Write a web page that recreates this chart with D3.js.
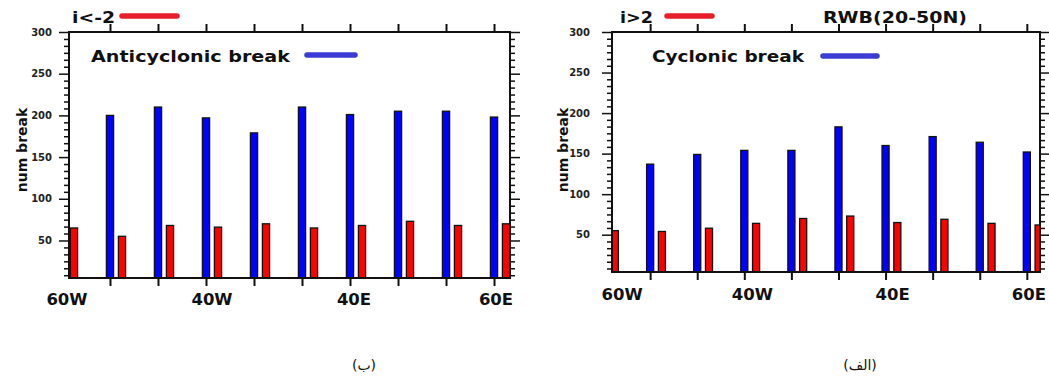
<!DOCTYPE html>
<meta charset="utf-8">
<script src="https://d3js.org/d3.v7.min.js"></script>
<style>
  body { margin: 0; background: #fff; }
</style>
<div id="chart"></div>

<script>
// sectors along the latitude band (index 0..9), labels only on every third
const sectors = d3.range(10);
const lonLabels = ["60W", "40W", "40E", "60E"];
const lonLabelAt = [0, 3, 6, 9];
const yTicks = [50, 100, 150, 200, 250, 300];

// (ب) i<-2, anticyclonic break  (first blue bar falls outside the frame)
const antiBlue = [null, 200, 210, 197, 179, 210, 201, 205, 205, 198];
const antiRed = [65, 55, 68, 66, 70, 65, 68, 73, 68, 70];

// (الف) i>2, cyclonic break
const cycBlue = [null, 137, 149, 154, 154, 183, 160, 171, 164, 152];
const cycRed = [55, 54, 58, 64, 70, 73, 65, 69, 64, 62];

const width = 1049, height = 376;

const svg = d3.select("#chart")
    .append("svg")
    .attr("width", width)
    .attr("height", height);

const panels = [
    {
        id: "left", blue: antiBlue, red: antiRed,
        x0: 69, x1: 510, y0: 32, y1: 278,
        xDomain: [0.146, 9.333], yDomain: [5, 300],
        labelGap: 17, ylabX: 27,
        lonDx: [5, 6, 4, 2], lonY: 305,
        idx: "i<-2", idxX: 72, idxW: 43, redLine: [122, 177],
        kind: "Anticyclonic break", kindX: 91, kindW: 199, blueLine: [307, 355, 55],
        caption: "(ب)", capX: 364
    },
    {
        id: "right", blue: cycBlue, red: cycRed,
        x0: 612, x1: 1040, y0: 32, y1: 272,
        xDomain: [0.19, 9.28], yDomain: [4, 300],
        labelGap: 22, ylabX: 568,
        lonDx: [19, 8, 7, 2], lonY: 300,
        idx: "i>2", idxX: 620, idxW: 33, redLine: [667, 712],
        kind: "Cyclonic break", kindX: 652, kindW: 152, blueLine: [823, 877, 56],
        title: "RWB(20-50N)", titleX: 823, titleW: 144,
        caption: "(الف)", capX: 860
    }
];

panels.forEach(function(p) {
    const x = d3.scaleLinear().domain(p.xDomain).range([p.x0, p.x1]);
    const y = d3.scaleLinear().domain(p.yDomain).range([p.y1, p.y0]);
    const g = svg.append("g");

    // clip bars to the frame
    svg.append("clipPath").attr("id", "clip-" + p.id)
        .append("rect")
        .attr("x", p.x0).attr("y", p.y0)
        .attr("width", p.x1 - p.x0).attr("height", p.y1 - p.y0);

    const bw = x(0.15) - x(0);
    const bars = g.append("g").attr("clip-path", "url(#clip-" + p.id + ")");

    bars.selectAll(".blue")
        .data(sectors.filter(i => p.blue[i] != null))
        .join("rect")
        .attr("x", i => x(i) - bw / 2)
        .attr("y", i => y(p.blue[i]))
        .attr("width", bw)
        .attr("height", i => y(p.yDomain[0]) - y(p.blue[i]))
        .attr("fill", "#0000ff")
        .attr("stroke", "#111")
        .attr("stroke-width", 1.3);

    bars.selectAll(".red")
        .data(sectors)
        .join("rect")
        .attr("x", i => x(i + 0.25) - bw / 2)
        .attr("y", i => y(p.red[i]))
        .attr("width", bw)
        .attr("height", i => y(p.yDomain[0]) - y(p.red[i]))
        .attr("fill", "#ff0000")
        .attr("stroke", "#111")
        .attr("stroke-width", 1.3);

    // minor ticks every 50/6
    const minor = d3.range(1, 36).map(k => k * 50 / 6)
        .filter(v => v > p.yDomain[0] && v < 300 && Math.abs(v / 50 - Math.round(v / 50)) > 1e-6);

    function yAxis(axisFn, xPos) {
        const a = g.append("g").attr("transform", `translate(${xPos},0)`);
        a.append("g").call(axisFn(y).tickValues(minor).tickSize(5).tickFormat(""));
        a.append("g").call(axisFn(y).tickValues(yTicks).tickSize(10).tickFormat(""));
        a.selectAll(".domain").remove();
        a.selectAll("line").attr("stroke", "#111").attr("stroke-width", 1.5);
    }
    yAxis(d3.axisLeft, p.x0);
    yAxis(d3.axisRight, p.x1);

    // y tick labels
    g.selectAll(".ylab")
        .data(yTicks)
        .join("text")
        .attr("x", p.x0 - p.labelGap)
        .attr("y", d => y(d))
        .attr("dy", "0.35em")
        .attr("text-anchor", "end")
        .attr("font-family", "DejaVu Sans")
        .attr("font-weight", "bold")
        .attr("font-size", 10)
        .attr("fill", "#222")
        .text(d => d);

    // x ticks top and bottom
    const xt = d3.range(1, 10);
    const top = g.append("g").attr("transform", `translate(0,${p.y0})`)
        .call(d3.axisTop(x).tickValues(xt).tickSize(8).tickFormat(""));
    const bot = g.append("g").attr("transform", `translate(0,${p.y1})`)
        .call(d3.axisBottom(x).tickValues(xt).tickSize(8).tickFormat(""));
    [top, bot].forEach(a => {
        a.select(".domain").remove();
        a.selectAll("line").attr("stroke", "#111").attr("stroke-width", 2);
    });

    // longitude labels
    g.selectAll(".lon")
        .data(lonLabels)
        .join("text")
        .attr("x", (d, k) => x(lonLabelAt[k]) + p.lonDx[k])
        .attr("y", p.lonY)
        .attr("text-anchor", "middle")
        .attr("font-family", "DejaVu Sans")
        .attr("font-weight", "bold")
        .attr("font-size", 16.5)
        .attr("fill", "#111")
        .text(d => d);

    // frame
    g.append("rect")
        .attr("x", p.x0).attr("y", p.y0)
        .attr("width", p.x1 - p.x0).attr("height", p.y1 - p.y0)
        .attr("fill", "none")
        .attr("stroke", "#111")
        .attr("stroke-width", 2);

    // y axis title
    g.append("text")
        .attr("transform", `translate(${p.ylabX},150) rotate(-90)`)
        .attr("text-anchor", "middle")
        .attr("font-family", "DejaVu Sans")
        .attr("font-weight", "bold")
        .attr("font-size", 14)
        .attr("fill", "#111")
        .text("num break");

    // index label + red key line
    g.append("text")
        .attr("x", p.idxX).attr("y", 23)
        .attr("font-family", "DejaVu Sans")
        .attr("font-weight", "bold")
        .attr("font-size", 16)
        .attr("textLength", p.idxW)
        .attr("lengthAdjust", "spacingAndGlyphs")
        .attr("fill", "#111")
        .text(p.idx);
    g.append("line")
        .attr("x1", p.redLine[0]).attr("x2", p.redLine[1])
        .attr("y1", 16).attr("y2", 16)
        .attr("stroke", "#e6202a")
        .attr("stroke-width", 5.5)
        .attr("stroke-linecap", "round");

    // break type + blue key line
    g.append("text")
        .attr("x", p.kindX).attr("y", 61.5)
        .attr("font-family", "DejaVu Sans")
        .attr("font-weight", "bold")
        .attr("font-size", 16.5)
        .attr("textLength", p.kindW)
        .attr("lengthAdjust", "spacingAndGlyphs")
        .attr("fill", "#111")
        .text(p.kind);
    g.append("line")
        .attr("x1", p.blueLine[0]).attr("x2", p.blueLine[1])
        .attr("y1", p.blueLine[2]).attr("y2", p.blueLine[2])
        .attr("stroke", "#3c3cd4")
        .attr("stroke-width", 5.5)
        .attr("stroke-linecap", "round");

    if (p.title) {
        g.append("text")
            .attr("x", p.titleX).attr("y", 23)
            .attr("font-family", "DejaVu Sans")
            .attr("font-weight", "bold")
            .attr("font-size", 16)
            .attr("textLength", p.titleW)
            .attr("lengthAdjust", "spacingAndGlyphs")
            .attr("fill", "#111")
            .text(p.title);
    }

    // panel caption
    svg.append("text")
        .attr("x", p.capX).attr("y", 370)
        .attr("text-anchor", "middle")
        .attr("font-family", "DejaVu Sans")
        .attr("font-size", 14)
        .attr("fill", "#111")
        .text(p.caption);
});
</script>
